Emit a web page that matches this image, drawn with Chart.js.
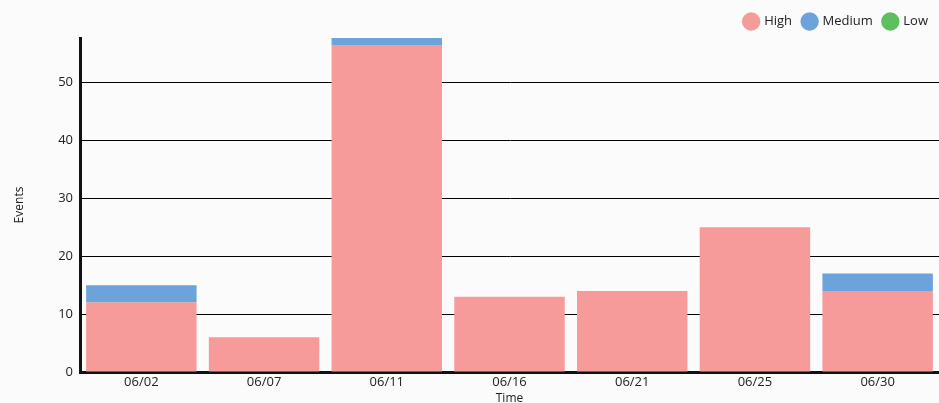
<!DOCTYPE html>
<html>
<head>
<meta charset="utf-8">
<script src="https://cdn.jsdelivr.net/npm/chart.js@4/dist/chart.umd.min.js"></script>
<style>
    html, body { margin: 0; padding: 0; background: #fbfbfb; overflow: hidden; }
    #wrap { position: relative; width: 939px; height: 406px; }
</style>
</head>
<body>
<div id="wrap"><canvas id="events-chart"></canvas></div>
<script>
// --- DATA ---
const categories = ["06/02", "06/07", "06/11", "06/16", "06/21", "06/25", "06/30"];
const highValues = [12, 6, 56.5, 13, 14, 25, 14];
const mediumValues = [3, 0, 1.2, 0, 0, 0, 3];
const lowValues = [0, 0, 0, 0, 0, 0, 0];

const FONT = "'Open Sans', sans-serif";
const TEXT = "#222";

// axis tops out at the tallest stack
const totals = categories.map((_, i) => highValues[i] + mediumValues[i] + lowValues[i]);
const yMax = Math.max(...totals);

const ctx = document.getElementById("events-chart").getContext("2d");
const chart = new Chart(ctx, {
    type: 'bar',
    data: {
        labels: categories,
        datasets: [
            { label: "High", data: highValues, backgroundColor: "#f79a9a" },
            { label: "Medium", data: mediumValues, backgroundColor: "#6ca3da" },
            { label: "Low", data: lowValues, backgroundColor: "#5ebf5e" }
        ]
    },
    options: {
        responsive: true,
        maintainAspectRatio: false,
        animation: false,
        layout: { padding: { top: 4, right: 0, left: 0, bottom: 0 } },
        datasets: { bar: { borderWidth: 0, categoryPercentage: 1, barPercentage: 0.9 } },
        plugins: {
            tooltip: { enabled: false },
            legend: {
                position: 'top',
                align: 'end',
                labels: {
                    usePointStyle: true,
                    pointStyle: 'circle',
                    boxWidth: 14,
                    boxHeight: 14,
                    padding: 11,
                    color: TEXT,
                    font: { family: FONT, size: 13 }
                }
            }
        },
        scales: {
            x: {
                stacked: true,
                grid: { display: false, drawTicks: false },
                border: { display: true, color: "#111", width: 3 },
                ticks: { color: TEXT, padding: 2, font: { family: FONT, size: 13 } },
                title: { display: true, text: "Time", color: TEXT, padding: { top: 0, bottom: 0 }, font: { family: FONT, size: 12 } }
            },
            y: {
                stacked: true,
                min: 0,
                max: yMax,
                afterFit: (scale) => { scale.width = 80; },
                grid: { color: "#000", lineWidth: 1, drawTicks: false },
                border: { display: true, color: "#111", width: 3 },
                ticks: { stepSize: 10, includeBounds: false, color: TEXT, padding: 7, font: { family: FONT, size: 13 } },
                title: { display: true, text: "Events", color: TEXT, padding: { top: 12, bottom: 0 }, font: { family: FONT, size: 12 } }
            }
        }
    }
});
</script>
</body>
</html>
